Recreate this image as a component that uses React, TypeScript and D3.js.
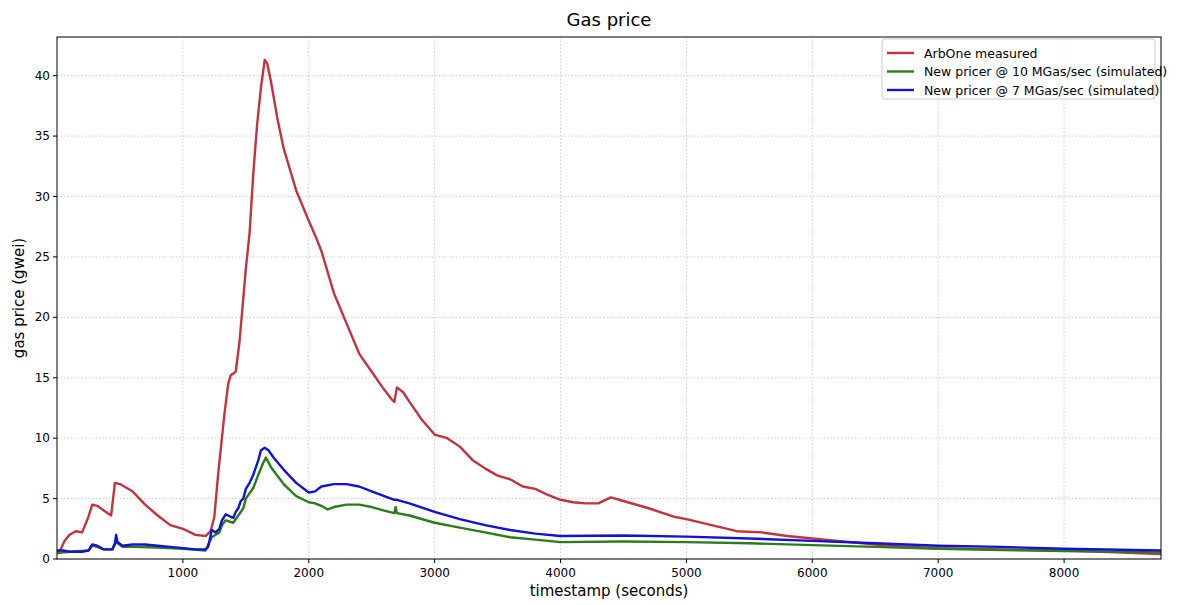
import React from 'react';
import * as d3 from 'd3';

const redT = [0, 30, 60, 100, 150, 200, 250, 280, 320, 400, 430, 440, 460, 500, 600, 700, 800, 900, 1000, 1100, 1180, 1220, 1250, 1280, 1300, 1330, 1360, 1380, 1420, 1450, 1500, 1530, 1560, 1590, 1620, 1650, 1670, 1700, 1750, 1800, 1900, 2000, 2050, 2100, 2200, 2300, 2400, 2500, 2600, 2660, 2680, 2700, 2750, 2800, 2900, 3000, 3100, 3200, 3300, 3400, 3500, 3600, 3700, 3800, 3900, 4000, 4100, 4200, 4300, 4400, 4500, 4700, 4900, 5000, 5200, 5400, 5600, 5800, 6000, 6200, 6400, 6600, 7000, 7500, 8000, 8300, 8770];
const redV = [0.5, 0.8, 1.5, 2.0, 2.3, 2.2, 3.5, 4.5, 4.4, 3.8, 3.6, 4.5, 6.3, 6.2, 5.6, 4.5, 3.6, 2.8, 2.5, 2.0, 1.9, 2.3, 3.5, 7, 9, 12, 14.5, 15.2, 15.5, 18, 24, 27, 32, 36, 39, 41.3, 41.0, 39.5, 36.5, 34, 30.5, 28, 26.8, 25.5, 22, 19.5, 17, 15.5, 14, 13.2, 13, 14.2, 13.8, 13, 11.5, 10.3, 10, 9.3, 8.2, 7.5, 6.9, 6.6, 6.0, 5.8, 5.3, 4.9, 4.7, 4.6, 4.6, 5.1, 4.8, 4.2, 3.5, 3.3, 2.8, 2.3, 2.2, 1.9, 1.7, 1.5, 1.3, 1.1, 0.9, 0.8, 0.7, 0.6, 0.4];

const blueT = [0, 50, 100, 200, 250, 280, 320, 370, 440, 460, 470, 480, 520, 600, 700, 800, 900, 1000, 1100, 1180, 1200, 1230, 1260, 1290, 1310, 1340, 1380, 1400, 1420, 1440, 1460, 1480, 1500, 1530, 1560, 1600, 1620, 1650, 1680, 1720, 1800, 1900, 2000, 2050, 2100, 2200, 2300, 2400, 2500, 2600, 2680, 2700, 2800, 3000, 3200, 3400, 3600, 3800, 4000, 4500, 5000, 5500, 6000, 6500, 7000, 7500, 8000, 8770];
const blueV = [0.7, 0.7, 0.6, 0.6, 0.7, 1.2, 1.1, 0.8, 0.8, 1.3, 2.0, 1.4, 1.1, 1.2, 1.2, 1.1, 1.0, 0.9, 0.8, 0.8, 1.0, 2.4, 2.2, 2.5, 3.2, 3.7, 3.5, 3.4, 3.9, 4.2, 4.8, 5.0, 5.8, 6.3, 7.0, 8.2, 9.0, 9.2, 9.0, 8.4, 7.4, 6.3, 5.5, 5.6, 6.0, 6.2, 6.2, 6.0, 5.6, 5.2, 4.9, 4.9, 4.6, 3.9, 3.3, 2.8, 2.4, 2.1, 1.9, 1.95, 1.85, 1.7, 1.5, 1.3, 1.1, 1.0, 0.85, 0.7];

const greenT = [0, 100, 250, 280, 320, 370, 440, 470, 520, 600, 800, 1000, 1180, 1230, 1260, 1290, 1310, 1340, 1400, 1440, 1480, 1500, 1560, 1600, 1640, 1660, 1700, 1800, 1900, 2000, 2050, 2100, 2150, 2200, 2300, 2400, 2500, 2600, 2680, 2690, 2700, 2800, 3000, 3200, 3400, 3600, 3800, 4000, 4500, 5000, 5500, 6000, 6500, 7000, 7500, 8000, 8770];
const greenV = [0.5, 0.6, 0.7, 1.1, 1.0, 0.8, 0.8, 1.4, 1.0, 1.0, 0.95, 0.85, 0.7, 1.8, 2.0, 2.2, 2.8, 3.2, 3.0, 3.6, 4.2, 5.0, 5.9, 7.0, 8.0, 8.4, 7.6, 6.2, 5.2, 4.7, 4.6, 4.4, 4.1, 4.3, 4.5, 4.5, 4.3, 4.0, 3.8, 4.3, 3.8, 3.6, 3.0, 2.6, 2.2, 1.8, 1.6, 1.4, 1.45, 1.4, 1.3, 1.15, 1.0, 0.85, 0.75, 0.65, 0.55];

const xTicks = [1000, 2000, 3000, 4000, 5000, 6000, 7000, 8000];
const yTicks = [0, 5, 10, 15, 20, 25, 30, 35, 40];

const series = [
  { name: 'ArbOne measured', color: '#c4323f', t: redT, v: redV },
  { name: 'New pricer @ 10 MGas/sec (simulated)', color: '#2b7d1c', t: greenT, v: greenV },
  { name: 'New pricer @ 7 MGas/sec (simulated)', color: '#1212d6', t: blueT, v: blueV },
];

const W = 1200, H = 605;
const L = 57, R = 1161, T = 37, B = 559;

export default function App() {
  const x = d3.scaleLinear().domain([0, 8770]).range([L, R]);
  const y = d3.scaleLinear().domain([0, 43.2]).range([B, T]);
  const line = d3.line<[number, number]>().x((d) => x(d[0])).y((d) => y(d[1]));
  const font = 'DejaVu Sans, sans-serif';

  return (
    <svg width={W} height={H} style={{ position: 'absolute', left: 0, top: 0, background: '#fff' }} fontFamily={font}>
      <text x={(L + R) / 2} y={26} textAnchor="middle" fontSize={18}>Gas price</text>

      {/* grid */}
      {xTicks.map((t) => (
        <line key={'gx' + t} x1={x(t)} x2={x(t)} y1={T} y2={B} stroke="#d0d0d0" strokeDasharray="1.5,2" />
      ))}
      {yTicks.map((t) => (
        <line key={'gy' + t} x1={L} x2={R} y1={y(t)} y2={y(t)} stroke="#d0d0d0" strokeDasharray="1.5,2" />
      ))}

      <defs>
        <clipPath id="plot"><rect x={L} y={T} width={R - L} height={B - T} /></clipPath>
      </defs>
      <g clipPath="url(#plot)">
        {series.map((s) => (
          <path key={s.name} d={line(s.t.map((t, i) => [t, s.v[i]] as [number, number])) || ''}
            fill="none" stroke={s.color} strokeWidth={2.4} strokeLinejoin="round" />
        ))}
      </g>

      <rect x={L} y={T} width={R - L} height={B - T} fill="none" stroke="#000" strokeWidth={1} />

      {/* ticks */}
      {xTicks.map((t) => (
        <g key={'tx' + t}>
          <line x1={x(t)} x2={x(t)} y1={B} y2={B + 4} stroke="#000" />
          <text x={x(t)} y={B + 18} textAnchor="middle" fontSize={12}>{t}</text>
        </g>
      ))}
      {yTicks.map((t) => (
        <g key={'ty' + t}>
          <line x1={L - 4} x2={L} y1={y(t)} y2={y(t)} stroke="#000" />
          <text x={L - 7} y={y(t) + 4} textAnchor="end" fontSize={12}>{t}</text>
        </g>
      ))}

      <text x={(L + R) / 2} y={596} textAnchor="middle" fontSize={15}>timestamp (seconds)</text>
      <text transform={`translate(24,${(T + B) / 2}) rotate(-90)`} textAnchor="middle" fontSize={15}>gas price (gwei)</text>

      {/* legend */}
      <rect x={882} y={39} width={273} height={60} fill="#fff" fillOpacity={0.85} stroke="#ccc" rx={3} />
      {series.map((s, i) => (
        <g key={'lg' + s.name} transform={`translate(887,${53 + i * 18.5})`}>
          <line x1={0} x2={27} y1={0} y2={0} stroke={s.color} strokeWidth={2.4} />
          <text x={37} y={4.5} fontSize={12.5}>{s.name}</text>
        </g>
      ))}
    </svg>
  );
}
